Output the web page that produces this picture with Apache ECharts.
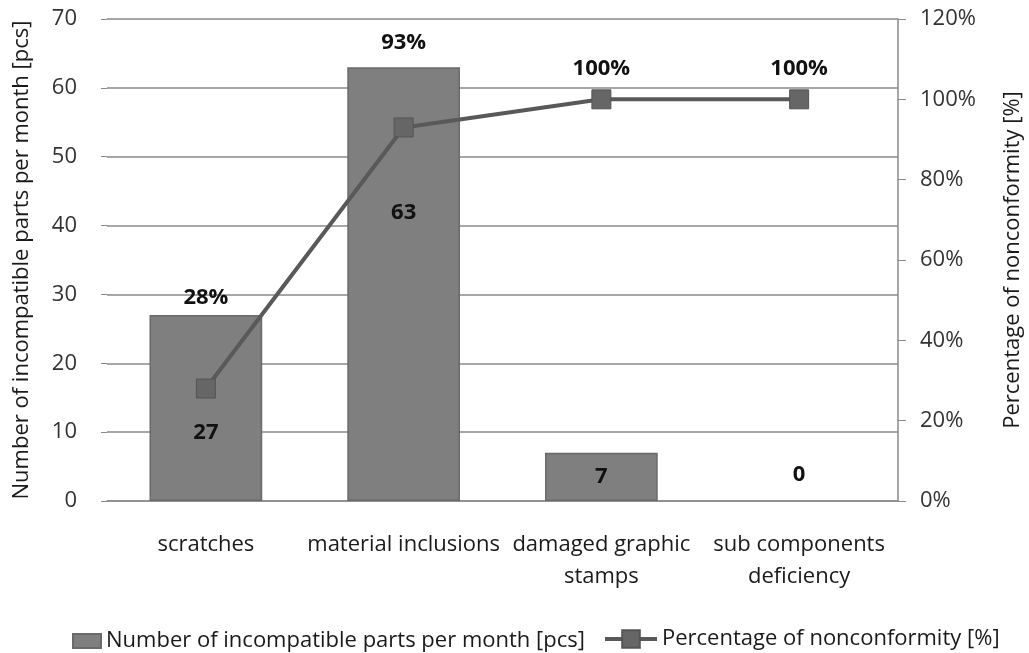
<!DOCTYPE html>
<html>
<head>
<meta charset="utf-8">
<script src="https://cdn.jsdelivr.net/npm/echarts@6/dist/echarts.min.js"></script>
<style>
  html, body { margin: 0; padding: 0; background: #fff; }
  #chart { width: 1029px; height: 653px; }
</style>
</head>
<body>
<div id="chart"></div>
<script>
// Monthly nonconformity counts with the cumulative share (Pareto view)
const categories = ['scratches', 'material inclusions', 'damaged graphic\nstamps', 'sub components\ndeficiency'];
const partCounts = [27, 63, 7, 0];
const cumulativePercent = [28, 93, 100, 100];
const countTicks = [0, 10, 20, 30, 40, 50, 60, 70];
const percentTicks = [0, 20, 40, 60, 80, 100, 120];

const barName = 'Number of incompatible parts per month [pcs]';
const lineName = 'Percentage of nonconformity [%]';

const FONT = '"Open Sans", Lato, sans-serif';
const FS = 22;
const TEXT_DARK = '#1a1a1a';
const AXIS_GREY = '#8a8a8a';
const LINE_GREY = '#595959';

// Label placement tweaks so value labels do not collide with the line
const barLabelShift = [25, -71, 0, -26];
const lineLabelShift = [-60, -54, 0, 0];

const barData = partCounts.map((v, i) => ({
  value: v,
  label: { offset: [0, barLabelShift[i]] },
  itemStyle: v === 0 ? { borderWidth: 0 } : undefined
}));
const lineData = cumulativePercent.map((v, i) => ({
  value: v,
  label: { offset: [0, lineLabelShift[i]] }
}));

const legendText = { fontFamily: FONT, fontSize: FS, color: TEXT_DARK };

const chart = echarts.init(document.getElementById('chart'), null, { renderer: 'canvas' });
chart.setOption({
  animation: false,
  backgroundColor: '#ffffff',
  textStyle: { fontFamily: FONT },
  grid: { left: 107, right: 131, top: 19, bottom: 152, containLabel: false, outerBoundsMode: 'none' },
  legend: [
    {
      top: 625,
      left: 67,
      itemWidth: 28,
      itemHeight: 14,
      itemGap: 0,
      textStyle: legendText,
      data: [{ name: barName, icon: 'rect' }]
    },
    {
      top: 623,
      left: 598,
      itemWidth: 52,
      itemHeight: 22,
      itemGap: 0,
      textStyle: legendText,
      lineStyle: { width: 4, color: LINE_GREY },
      data: [{ name: lineName }]
    }
  ],
  xAxis: {
    type: 'category',
    data: categories,
    axisLine: { lineStyle: { color: AXIS_GREY, width: 1.5 } },
    axisTick: { show: false },
    axisLabel: { fontFamily: FONT, fontSize: FS, color: TEXT_DARK, margin: 28, lineHeight: 32, interval: 0 }
  },
  yAxis: [
    {
      type: 'value',
      min: countTicks[0],
      max: countTicks[countTicks.length - 1],
      interval: countTicks[1] - countTicks[0],
      name: barName,
      nameLocation: 'middle',
      nameGap: 74,
      nameTextStyle: { fontFamily: FONT, fontSize: FS, color: TEXT_DARK },
      axisLine: { show: false },
      axisTick: { show: true, length: 6, lineStyle: { color: AXIS_GREY } },
      axisLabel: { fontFamily: FONT, fontSize: FS, color: '#333', margin: 30 },
      splitLine: { show: true, lineStyle: { color: AXIS_GREY, width: 1.5 } }
    },
    {
      type: 'value',
      min: percentTicks[0],
      max: percentTicks[percentTicks.length - 1],
      interval: percentTicks[1] - percentTicks[0],
      position: 'right',
      name: lineName,
      nameLocation: 'middle',
      nameGap: 104,
      nameRotate: 90,
      nameTextStyle: { fontFamily: FONT, fontSize: FS, color: TEXT_DARK },
      axisLine: { show: true, lineStyle: { color: AXIS_GREY, width: 1.5 } },
      axisTick: { show: true, length: 8, lineStyle: { color: AXIS_GREY } },
      axisLabel: { fontFamily: FONT, fontSize: FS, color: '#333', margin: 22, formatter: '{value}%' },
      splitLine: { show: false }
    }
  ],
  series: [
    {
      name: barName,
      type: 'bar',
      yAxisIndex: 0,
      barWidth: '57%',
      data: barData,
      itemStyle: { color: '#7f7f7f', borderColor: '#6a6a6a', borderWidth: 1.5 },
      label: {
        show: true,
        position: 'inside',
        fontFamily: FONT,
        fontSize: FS,
        fontWeight: 'bold',
        color: '#111'
      },
      z: 2
    },
    {
      name: lineName,
      type: 'line',
      yAxisIndex: 1,
      data: lineData,
      symbol: 'rect',
      symbolSize: 19,
      lineStyle: { color: LINE_GREY, width: 4 },
      itemStyle: { color: '#666666', borderColor: '#555555', borderWidth: 1 },
      label: {
        show: true,
        position: 'top',
        distance: 10,
        fontFamily: FONT,
        fontSize: FS,
        fontWeight: 'bold',
        color: '#111',
        formatter: '{c}%'
      },
      z: 3
    }
  ]
});
</script>
</body>
</html>
